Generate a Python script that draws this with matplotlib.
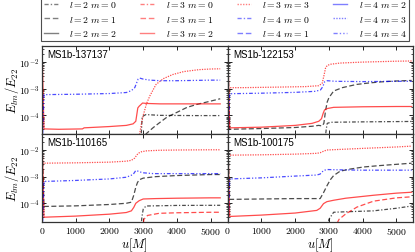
import matplotlib
matplotlib.use("Agg")
import matplotlib.pyplot as plt
from matplotlib.lines import Line2D

plt.rcParams['mathtext.fontset'] = 'cm'
plt.rcParams['font.family'] = ['DejaVu Sans']

# panel names
panels = ['MS1b-137137', 'MS1b-122153', 'MS1b-110165', 'MS1b-100175']

# ---- MS1b-137137 (top left)
u_a_44 = [0, 15, 60, 1000, 2000, 2500, 2650, 2750, 2800, 2850, 2900, 3000, 3200, 3500, 4000, 4500, 5000, 5280]
e_a_44 = [0.05, 1e-5, 6e-4, 6.2e-4, 6.6e-4, 7.2e-4, 8.5e-4, 1.1e-3, 1.6e-3, 2.3e-3, 2.5e-3, 2.3e-3, 2.1e-3, 2.0e-3, 2.0e-3, 2.05e-3, 2.1e-3, 2.1e-3]
u_a_33 = [2850, 2950, 3000, 3100, 3200, 3380, 3600, 3870, 4200, 4650, 5000, 5280]
e_a_33 = [1e-5, 5e-5, 1.0e-4, 2.8e-4, 5.5e-4, 1.45e-3, 2.4e-3, 3.4e-3, 4.4e-3, 5.2e-3, 5.5e-3, 5.6e-3]
u_a_32 = [0, 60, 500, 1200, 1250, 2000, 2500, 2700, 2780, 2840, 2880, 2980, 3100, 3500, 4000, 5000, 5280]
e_a_32 = [0.05, 3.1e-5, 3.0e-5, 3.1e-5, 3.4e-5, 3.8e-5, 4.2e-5, 4.8e-5, 6e-5, 1.9e-4, 2.2e-4, 2.9e-4, 2.8e-4, 2.7e-4, 2.7e-4, 2.7e-4, 2.7e-4]
u_a_20 = [2930, 2950, 2970, 3080, 3500, 4500, 5280]
e_a_20 = [1e-5, 3e-5, 9e-5, 1.07e-4, 1.0e-4, 9.8e-5, 9.8e-5]
u_a_21 = [3000, 3080, 3300, 3500, 3700, 4000, 4300, 4600, 4900, 5280]
e_a_21 = [1e-5, 2e-5, 3.5e-5, 5.5e-5, 8.5e-5, 1.3e-4, 2e-4, 2.6e-4, 3.2e-4, 4.2e-4]

# ---- MS1b-122153 (top right)
u_b_33 = [0, 500, 1500, 2300, 2700, 2800, 2850, 2900, 2950, 3050, 3330, 4000, 5000, 5450]
e_b_33 = [1.09e-3, 1.1e-3, 1.15e-3, 1.2e-3, 1.3e-3, 1.6e-3, 3e-3, 6e-3, 7.5e-3, 8.3e-3, 9.2e-3, 1.0e-2, 1.08e-2, 1.1e-2]
u_b_44 = [0, 15, 60, 1000, 2000, 2600, 2750, 2820, 2870, 2950, 3200, 4000, 5000, 5450]
e_b_44 = [0.05, 1e-5, 6.5e-4, 6.8e-4, 7.3e-4, 8e-4, 9e-4, 1.2e-3, 1.8e-3, 2.0e-3, 1.9e-3, 1.85e-3, 1.9e-3, 1.9e-3]
u_b_21 = [0, 60, 1000, 2000, 2500, 2700, 2800, 2850, 2900, 2950, 3000, 3140, 3400, 3820, 4200, 4520, 5000, 5450]
e_b_21 = [0.05, 3.0e-5, 3.2e-5, 3.5e-5, 3.9e-5, 4.2e-5, 4.0e-5, 5e-5, 1.5e-4, 3.2e-4, 4.6e-4, 8.2e-4, 1.1e-3, 1.45e-3, 1.65e-3, 1.8e-3, 1.95e-3, 2.05e-3]
u_b_32 = [0, 60, 1000, 2000, 2500, 2700, 2780, 2830, 2870, 2950, 3140, 4000, 5000, 5450]
e_b_32 = [0.05, 3.4e-5, 3.6e-5, 4.2e-5, 5e-5, 6e-5, 7.5e-5, 1.2e-4, 1.6e-4, 1.8e-4, 2.0e-4, 2.1e-4, 2.15e-4, 2.15e-4]
u_b_20 = [2880, 2920, 2950, 3050, 4000, 5450]
e_b_20 = [1e-5, 3e-5, 5e-5, 5.5e-5, 5.7e-5, 5.9e-5]

# ---- MS1b-110165 (bottom left)
u_c_33 = [0, 1000, 2000, 2500, 2650, 2750, 2800, 2850, 2950, 3100, 3500, 4000, 5000, 5280]
e_c_33 = [3.2e-3, 3.3e-3, 3.5e-3, 3.8e-3, 4.1e-3, 5e-3, 6.2e-3, 7.5e-3, 8.6e-3, 9.3e-3, 9.8e-3, 1.0e-2, 1.02e-2, 1.02e-2]
u_c_44 = [0, 15, 60, 1000, 2000, 2500, 2700, 2780, 2850, 2980, 3300, 4000, 5000, 5280]
e_c_44 = [0.05, 1e-5, 6.6e-4, 7.2e-4, 8.2e-4, 9.5e-4, 1.2e-3, 1.7e-3, 1.6e-3, 1.4e-3, 1.3e-3, 1.3e-3, 1.3e-3, 1.3e-3]
u_c_21 = [0, 60, 1000, 2000, 2500, 2650, 2720, 2780, 2830, 2880, 3000, 3370, 4000, 5000, 5280]
e_c_21 = [0.05, 7.6e-5, 8e-5, 9e-5, 1.0e-4, 1.1e-4, 2e-4, 4e-4, 6e-4, 7.6e-4, 8.8e-4, 1.0e-3, 1.1e-3, 1.2e-3, 1.2e-3]
u_c_32 = [0, 60, 1000, 2000, 2500, 2650, 2720, 2780, 2880, 3000, 3370, 4000, 5000, 5280]
e_c_32 = [0.05, 3.0e-5, 3.3e-5, 3.9e-5, 4.5e-5, 5.2e-5, 7e-5, 1.0e-4, 1.25e-4, 1.45e-4, 1.5e-4, 1.55e-4, 1.6e-4, 1.6e-4]
u_c_20 = [2930, 2960, 3000, 3080, 4000, 5280]
e_c_20 = [1e-5, 3e-5, 6e-5, 7.9e-5, 8.3e-5, 8.4e-5]
u_c_31 = [2980, 3020, 3130, 3470, 4000, 5000, 5280]
e_c_31 = [1e-5, 2.5e-5, 3.5e-5, 4.2e-5, 4.4e-5, 4.6e-5, 4.6e-5]

# ---- MS1b-100175 (bottom right)
u_d_33 = [0, 1000, 2000, 2640, 2740, 2840, 2940, 3300, 4000, 5000, 5450]
e_d_33 = [6.4e-3, 6.6e-3, 7e-3, 7.5e-3, 7.9e-3, 9e-3, 1.0e-2, 1.05e-2, 1.15e-2, 1.3e-2, 1.4e-2]
u_d_44 = [0, 15, 60, 1000, 2000, 2640, 2740, 2840, 2940, 3300, 4000, 5000, 5450]
e_d_44 = [0.05, 1e-5, 8.2e-4, 9e-4, 1.05e-3, 1.15e-3, 1.25e-3, 1.7e-3, 1.85e-3, 1.8e-3, 1.75e-3, 1.75e-3, 1.75e-3]
u_d_21 = [0, 60, 1000, 2000, 2740, 2840, 2940, 3040, 3140, 3330, 3600, 4020, 4500, 5000, 5450]
e_d_21 = [0.05, 1.4e-4, 1.45e-4, 1.5e-4, 1.5e-4, 2.5e-4, 4.5e-4, 7.6e-4, 1.1e-3, 1.6e-3, 1.9e-3, 2.3e-3, 2.6e-3, 2.9e-3, 3.2e-3]
u_d_32 = [0, 60, 1000, 2000, 2640, 2740, 2840, 2940, 3140, 3500, 4320, 5000, 5450]
e_d_32 = [0.05, 3.2e-5, 3.6e-5, 4.3e-5, 5.4e-5, 6.5e-5, 9.7e-5, 1.15e-4, 1.3e-4, 1.55e-4, 2.0e-4, 2.4e-4, 2.6e-4]
u_d_31 = [3140, 3300, 3500, 3830, 4320, 5000, 5450]
e_d_31 = [1e-5, 2.5e-5, 4e-5, 7.2e-5, 1.2e-4, 1.6e-4, 1.75e-4]
u_d_20 = [2940, 3000, 3140, 3500, 4320, 5000, 5450]
e_d_20 = [1e-5, 2.5e-5, 4.6e-5, 4.8e-5, 5.2e-5, 6.5e-5, 7.9e-5]

# mode styles
lcol = {2: 'k', 3: 'r', 4: 'b'}
mstyle = {0: (0, (3, 1.5, 1, 1.5)), 1: (0, (4, 2)), 2: '-', 3: (0, (1, 1)), 4: (0, (3, 1.5, 1, 1.5, 1, 1.5))}
alpha = 0.7

panel_data = [
    [(2, 0, u_a_20, e_a_20), (2, 1, u_a_21, e_a_21), (3, 2, u_a_32, e_a_32), (3, 3, u_a_33, e_a_33), (4, 4, u_a_44, e_a_44)],
    [(2, 0, u_b_20, e_b_20), (2, 1, u_b_21, e_b_21), (3, 2, u_b_32, e_b_32), (3, 3, u_b_33, e_b_33), (4, 4, u_b_44, e_b_44)],
    [(2, 0, u_c_20, e_c_20), (2, 1, u_c_21, e_c_21), (3, 1, u_c_31, e_c_31), (3, 2, u_c_32, e_c_32), (3, 3, u_c_33, e_c_33), (4, 4, u_c_44, e_c_44)],
    [(2, 0, u_d_20, e_d_20), (2, 1, u_d_21, e_d_21), (3, 1, u_d_31, e_d_31), (3, 2, u_d_32, e_d_32), (3, 3, u_d_33, e_d_33), (4, 4, u_d_44, e_d_44)],
]

fig, axes = plt.subplots(2, 2, figsize=(4.15, 2.53), dpi=100, sharex=True, sharey=True)
fig.subplots_adjust(left=0.101, right=0.996, bottom=0.119, top=0.814, wspace=0, hspace=0)

for ax, name, lines in zip(axes.flat, panels, panel_data):
    for l, m, u, e in lines:
        ax.plot(u, e, color=lcol[l], ls=mstyle[m], lw=0.9, alpha=alpha)
    ax.set_yscale('log')
    ax.set_xlim(0, 5500)
    ax.set_ylim(2e-5, 4e-2)
    ax.text(0.03, 0.97, name, transform=ax.transAxes, ha='left', va='top',
            fontsize=7, family='Liberation Sans')
    ax.tick_params(which='both', direction='in', top=True, right=True, labelsize=7)
    ax.tick_params(which='major', length=3, width=0.6, pad=2)
    ax.tick_params(which='minor', length=1.5, width=0.5)
    for s in ax.spines.values():
        s.set_linewidth(0.9)
        s.set_color('#333333')

yt = [1e-4, 1e-3, 1e-2]
ytl = [r'$10^{-4}$', r'$10^{-3}$', r'$10^{-2}$']
xt = [0, 1000, 2000, 3000, 4000, 5000]
for ax in axes.flat:
    ax.set_yticks(yt)
    ax.set_xticks(xt)
for ax in axes[:, 0]:
    ax.set_yticklabels(ytl)
    ax.set_ylabel(r'$E_{lm}/E_{22}$', fontsize=9)
    ax.yaxis.set_label_coords(-0.115, 0.5)
for ax in axes[1, :]:
    ax.set_xticklabels([r'$%d$' % x for x in xt])
    ax.set_xlabel(r'$u[M]$', fontsize=9)
    ax.xaxis.set_label_coords(0.5, -0.15)

# legend
modes = [(2, 0), (2, 1), (2, 2), (3, 0), (3, 1), (3, 2), (3, 3), (4, 0), (4, 1), (4, 2), (4, 3), (4, 4)]
handles = [Line2D([], [], color=lcol[l], ls=mstyle[m], lw=1.0, alpha=0.5) for l, m in modes]
labels = [r'$l=%d\ m=%d$' % (l, m) for l, m in modes]
leg = fig.legend(handles, labels, ncol=4, loc='lower left', mode='expand',
                 bbox_to_anchor=(0.099, 0.834, 0.887, 0.166), fontsize=7,
                 frameon=True, fancybox=False, edgecolor='#222222',
                 handlelength=1.4, handletextpad=1.2, labelspacing=0.45,
                 borderaxespad=0, borderpad=0.3)
leg.get_frame().set_linewidth(0.8)

fig.savefig('out.png', dpi=100)
